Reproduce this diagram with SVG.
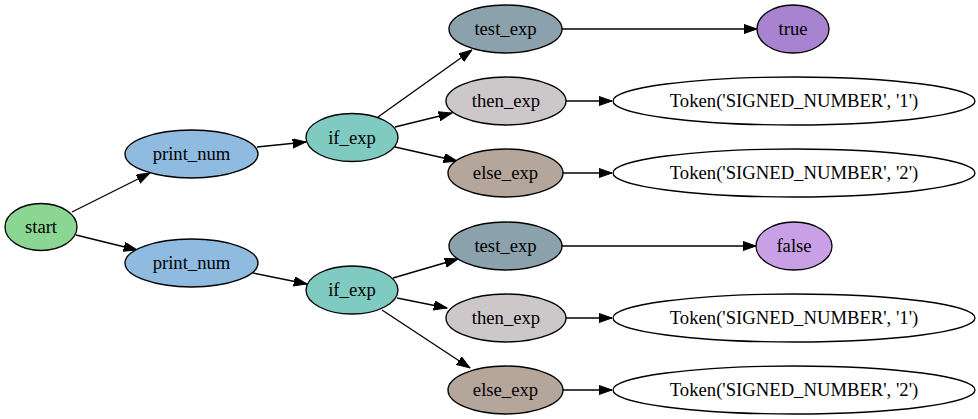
<svg xmlns="http://www.w3.org/2000/svg" width="978" height="419" viewBox="0 0 978 419">
<style>
.n ellipse{stroke:#000;stroke-width:1.33}
.e line{stroke:#000;stroke-width:1.33;fill:none;marker-end:url(#ah)}
</style>
<defs>
<marker id="ah" markerUnits="userSpaceOnUse" markerWidth="14" markerHeight="10" refX="13.3" refY="4.67" orient="auto" viewBox="0 0 14 10">
<path d="M0,0 L13.3,4.67 L0,9.33 Z" fill="#000" stroke="#000" stroke-width="1"/>
</marker>
</defs>
<rect width="978" height="419" fill="#fff"/>
<g id="edges" class="e">
<line x1="72" y1="212" x2="150" y2="173"/>
<line x1="76" y1="235" x2="137" y2="250"/>
<line x1="257" y1="147" x2="306" y2="142"/>
<line x1="253" y1="273" x2="307" y2="284"/>
<line x1="378" y1="117" x2="472" y2="50"/>
<line x1="395" y1="127" x2="452" y2="113"/>
<line x1="395" y1="147" x2="457" y2="161"/>
<line x1="562" y1="29" x2="757" y2="29"/>
<line x1="566" y1="101" x2="612" y2="101"/>
<line x1="563" y1="173" x2="612" y2="173"/>
<line x1="393" y1="278" x2="458" y2="259"/>
<line x1="397" y1="298" x2="447" y2="308"/>
<line x1="382" y1="310" x2="470" y2="368"/>
<line x1="562" y1="246" x2="756" y2="246"/>
<line x1="566" y1="318" x2="612" y2="318"/>
<line x1="563" y1="390" x2="612" y2="390"/>
</g>
<g id="nodes" font-family="Liberation Serif" font-size="18.67" text-anchor="middle" fill="#000">
<g id="start" class="n"><ellipse cx="41" cy="227" rx="36" ry="23.5" fill="#8cd694"/><text x="41" y="233" font-family="Liberation Serif">start</text></g>
<g id="print_num_1" class="n"><ellipse cx="191.5" cy="154" rx="66.5" ry="24" fill="#8fbbe0"/><text x="191.5" y="160" font-family="Liberation Serif">print_num</text></g>
<g id="print_num_2" class="n"><ellipse cx="191.5" cy="263" rx="66.5" ry="24" fill="#8fbbe0"/><text x="191.5" y="269" font-family="Liberation Serif">print_num</text></g>
<g id="if_exp_1" class="n"><ellipse cx="352" cy="137.5" rx="46" ry="24" fill="#7fcbc1"/><text x="352" y="143.5" font-family="Liberation Serif">if_exp</text></g>
<g id="if_exp_2" class="n"><ellipse cx="352" cy="290" rx="46" ry="24" fill="#7fcbc1"/><text x="352" y="296" font-family="Liberation Serif">if_exp</text></g>
<g id="test_exp_1" class="n"><ellipse cx="505.5" cy="29" rx="56.5" ry="24" fill="#8ba2ac"/><text x="505.5" y="35" font-family="Liberation Serif">test_exp</text></g>
<g id="then_exp_1" class="n"><ellipse cx="506" cy="101" rx="60" ry="24" fill="#ccc7c8"/><text x="506" y="107" font-family="Liberation Serif">then_exp</text></g>
<g id="else_exp_1" class="n"><ellipse cx="505.5" cy="173" rx="57.5" ry="24" fill="#b5a69c"/><text x="505.5" y="179" font-family="Liberation Serif">else_exp</text></g>
<g id="true_node" class="n"><ellipse cx="793" cy="29" rx="36" ry="24" fill="#a783d0"/><text x="793" y="35" font-family="Liberation Serif">true</text></g>
<g id="token_1a" class="n"><ellipse cx="794" cy="101" rx="181" ry="24" fill="#fff"/><text x="794" y="107" font-family="Liberation Serif">Token('SIGNED_NUMBER', '1')</text></g>
<g id="token_2a" class="n"><ellipse cx="794" cy="173" rx="181" ry="24" fill="#fff"/><text x="794" y="179" font-family="Liberation Serif">Token('SIGNED_NUMBER', '2')</text></g>
<g id="test_exp_2" class="n"><ellipse cx="505.5" cy="246" rx="56.5" ry="24" fill="#8ba2ac"/><text x="505.5" y="252" font-family="Liberation Serif">test_exp</text></g>
<g id="then_exp_2" class="n"><ellipse cx="506" cy="318" rx="60" ry="24" fill="#ccc7c8"/><text x="506" y="324" font-family="Liberation Serif">then_exp</text></g>
<g id="else_exp_2" class="n"><ellipse cx="505.5" cy="390" rx="57.5" ry="24" fill="#b5a69c"/><text x="505.5" y="396" font-family="Liberation Serif">else_exp</text></g>
<g id="false_node" class="n"><ellipse cx="794" cy="246" rx="38" ry="24" fill="#c9a0e6"/><text x="794" y="252" font-family="Liberation Serif">false</text></g>
<g id="token_1b" class="n"><ellipse cx="794" cy="318" rx="181" ry="24" fill="#fff"/><text x="794" y="324" font-family="Liberation Serif">Token('SIGNED_NUMBER', '1')</text></g>
<g id="token_2b" class="n"><ellipse cx="794" cy="390" rx="181" ry="24" fill="#fff"/><text x="794" y="396" font-family="Liberation Serif">Token('SIGNED_NUMBER', '2')</text></g>
</g>
</svg>
